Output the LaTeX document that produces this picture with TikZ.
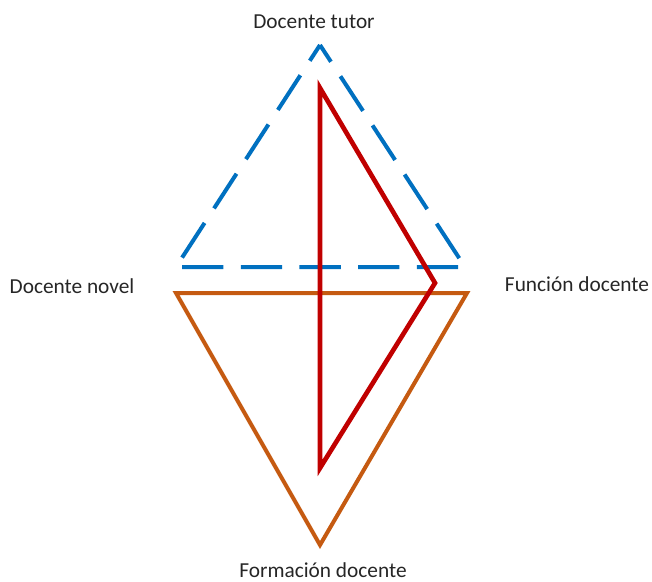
\documentclass[tikz,border=0pt]{standalone}
\usepackage{fontspec}
\setmainfont{Carlito}
\definecolor{azul}{HTML}{0070C0}
\definecolor{naranja}{HTML}{C55A11}
\definecolor{rojo}{HTML}{C00000}
\begin{document}
\begin{tikzpicture}[x=0.75pt, y=-0.75pt, line join=miter,
    etiqueta/.style={font=\fontsize{16}{19}\selectfont, text=black!85, inner sep=1pt}]
    \useasboundingbox (0,0) rectangle (652,581);

    % vértices
    \coordinate (tutor) at (320, 45);
    \coordinate (novelA) at (176, 267);
    \coordinate (funcionA) at (465, 267);
    \coordinate (novelB) at (176, 293);
    \coordinate (funcionB) at (467, 293);
    \coordinate (formacion) at (320, 545);

    % triángulo superior (discontinuo)
    \draw[azul, line width=3pt, dash pattern=on 31pt off 13pt, dash phase=16pt]
        (tutor) -- (funcionA) -- (novelA) -- cycle;

    % triángulo inferior
    \draw[naranja, line width=3pt] (novelB) -- (funcionB) -- (formacion) -- cycle;

    % triángulo interior
    \draw[rojo, line width=3.5pt] (320, 88) -- (435, 283) -- (320, 468) -- cycle;

    % etiquetas
    \node[etiqueta] (lblTutor) at (314, 22) {Docente tutor};
    \node[etiqueta] (lblNovel) at (72, 286) {Docente novel};
    \node[etiqueta] (lblFuncion) at (577, 284) {Función docente};
    \node[etiqueta] (lblFormacion) at (323, 570) {Formación docente};
\end{tikzpicture}
\end{document}
